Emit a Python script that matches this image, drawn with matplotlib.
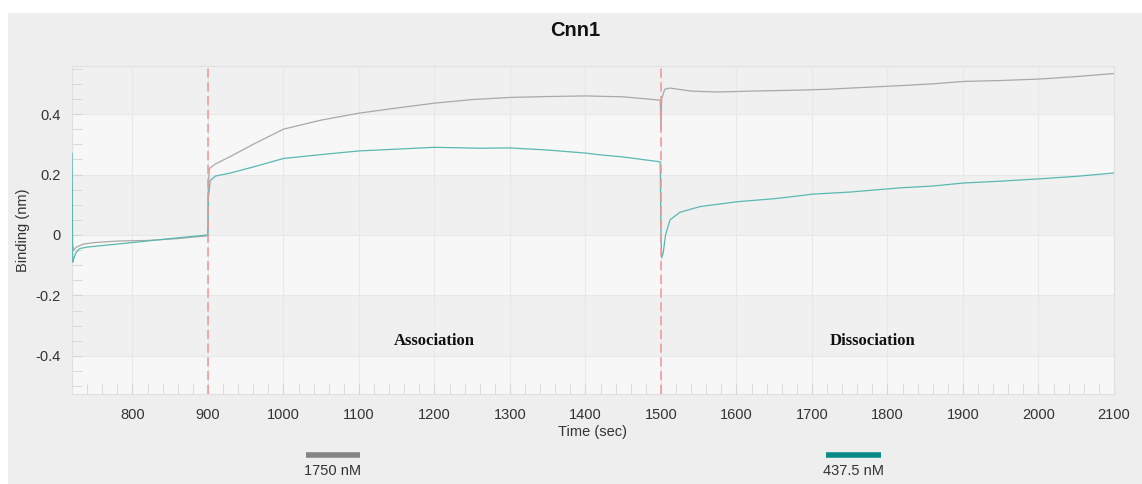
import matplotlib
matplotlib.use("Agg")
import matplotlib.pyplot as plt
from matplotlib.ticker import MultipleLocator
from matplotlib.lines import Line2D
from matplotlib.patches import Rectangle

plt.rcParams['font.family'] = ['Liberation Sans', 'DejaVu Sans']

title = "Cnn1"
phase_starts = [900, 1500]
phase_names = ["Association", "Dissociation"]
phase_label_x = [1200, 1780]

# 1750 nM trace (gray)
t_1750 = [720, 720.5, 722, 726, 735, 750, 780, 820, 860, 898, 900, 900.5, 902, 910,
          930, 960, 1000, 1050, 1100, 1150, 1200, 1250, 1300, 1350, 1400, 1450,
          1499, 1500, 1501, 1505, 1512, 1540, 1575, 1620, 1680, 1720, 1760, 1817,
          1860, 1901, 1950, 2003, 2050, 2100]
v_1750 = [0.17, -0.03, -0.05, -0.04, -0.03, -0.025, -0.02, -0.018, -0.012, -0.003,
          0.0, 0.17, 0.22, 0.235, 0.26, 0.30, 0.35, 0.38, 0.403, 0.42, 0.436, 0.448,
          0.455, 0.458, 0.46, 0.457, 0.446, 0.35, 0.45, 0.482, 0.486, 0.476, 0.473,
          0.476, 0.479, 0.482, 0.487, 0.494, 0.5, 0.508, 0.511, 0.516, 0.524, 0.534]

# 437.5 nM trace (teal)
t_437 = [720, 721, 722, 725, 730, 740, 760, 800, 850, 899, 900, 900.5, 903, 910,
         930, 960, 1000, 1050, 1100, 1150, 1200, 1261, 1300, 1350, 1400, 1420, 1450,
         1499, 1500, 1501, 1503, 1506, 1512, 1525, 1552, 1601, 1650, 1681, 1700,
         1750, 1817, 1860, 1901, 1950, 2003, 2050, 2100]
v_437 = [0.27, -0.09, -0.08, -0.06, -0.045, -0.04, -0.035, -0.025, -0.012, 0.0,
         0.005, 0.12, 0.18, 0.195, 0.205, 0.225, 0.253, 0.266, 0.278, 0.284, 0.29,
         0.287, 0.288, 0.281, 0.271, 0.265, 0.258, 0.242, 0.0, -0.075, -0.06, 0.0,
         0.05, 0.075, 0.094, 0.11, 0.12, 0.129, 0.135, 0.142, 0.156, 0.162, 0.172,
         0.178, 0.186, 0.194, 0.205]

legend_labels = ["1750 nM", "437.5 nM"]
legend_colors = ["#858585", "#0a8a86"]
line_colors = ["#a9a9a9", "#5ab8b2"]

fig = plt.figure(figsize=(11.42, 4.84), dpi=100, facecolor='white')
# gray panel behind everything
fig.add_artist(Rectangle((8 / 1142, 0), 1 - 8 / 1142, 1 - 13 / 484,
                         transform=fig.transFigure, facecolor='#eeeeee',
                         edgecolor='none', zorder=-10))

ax = fig.add_axes([72 / 1142, 1 - 394 / 484, (1114 - 72) / 1142, (394 - 66) / 484])
ax.set_facecolor('#f7f7f7')
ax.set_xlim(720, 2100)
ax.set_ylim(-0.526, 0.559)

# alternating horizontal bands
for lo in [-0.4, 0.0, 0.4]:
    ax.axhspan(lo, lo + 0.2, color='#f0f0f0', zorder=0, lw=0)
for yy in [-0.4, -0.2, 0, 0.2, 0.4]:
    ax.axhline(yy, color='#e8e8e8', lw=0.8, zorder=0.5)

ax.xaxis.set_major_locator(MultipleLocator(100))
ax.xaxis.set_minor_locator(MultipleLocator(20))
ax.yaxis.set_major_locator(MultipleLocator(0.2))
ax.yaxis.set_minor_locator(MultipleLocator(0.05))
ax.grid(axis='x', which='major', color='#e8e8e8', lw=0.8, zorder=0.5)
ax.set_axisbelow(True)

ax.tick_params(which='both', direction='in', length=7, color='#d5d5d5',
               labelsize=10.5, labelcolor='#333333', top=False, right=False)
ax.tick_params(axis='x', pad=10)
ax.tick_params(axis='y', pad=8)
ax.set_yticks([-0.4, -0.2, 0, 0.2, 0.4])
ax.set_yticklabels(['-0.4', '-0.2', '0', '0.2', '0.4'])
for s in ax.spines.values():
    s.set_color('#e0e0e0')

ax.plot(t_1750, v_1750, color=line_colors[0], lw=0.9, zorder=3)
ax.plot(t_437, v_437, color=line_colors[1], lw=0.9, zorder=3)

for xs in phase_starts:
    ax.axvline(xs, color='#f29494', lw=1.1, ls=(0, (6, 3)), zorder=4)

for name, xp in zip(phase_names, phase_label_x):
    ax.text(xp, -0.35, name, ha='center', va='center', fontsize=12,
            fontweight='bold', family=['Liberation Serif', 'DejaVu Serif'],
            color='#111111')

ax.set_xlabel("Time (sec)", fontsize=10.5, color='#333333', labelpad=2)
ax.set_ylabel("Binding (nm)", fontsize=10.5, color='#333333', labelpad=4)

fig.text(575 / 1142, 1 - 30 / 484, title, ha='center', va='center',
         fontsize=14.5, fontweight='bold', color='#111111')

# custom legend below the axes
leg_x = [(306, 360), (826, 881)]
for (x0, x1), lab, col in zip(leg_x, legend_labels, legend_colors):
    fig.add_artist(Line2D([x0 / 1142, x1 / 1142], [1 - 455 / 484] * 2,
                          transform=fig.transFigure, color=col, lw=4,
                          solid_capstyle='butt'))
    fig.text((x0 + x1) / 2 / 1142, 1 - 471 / 484, lab, ha='center', va='center',
             fontsize=10.5, color='#333333')

fig.savefig("out.png", dpi=100, facecolor=fig.get_facecolor())
